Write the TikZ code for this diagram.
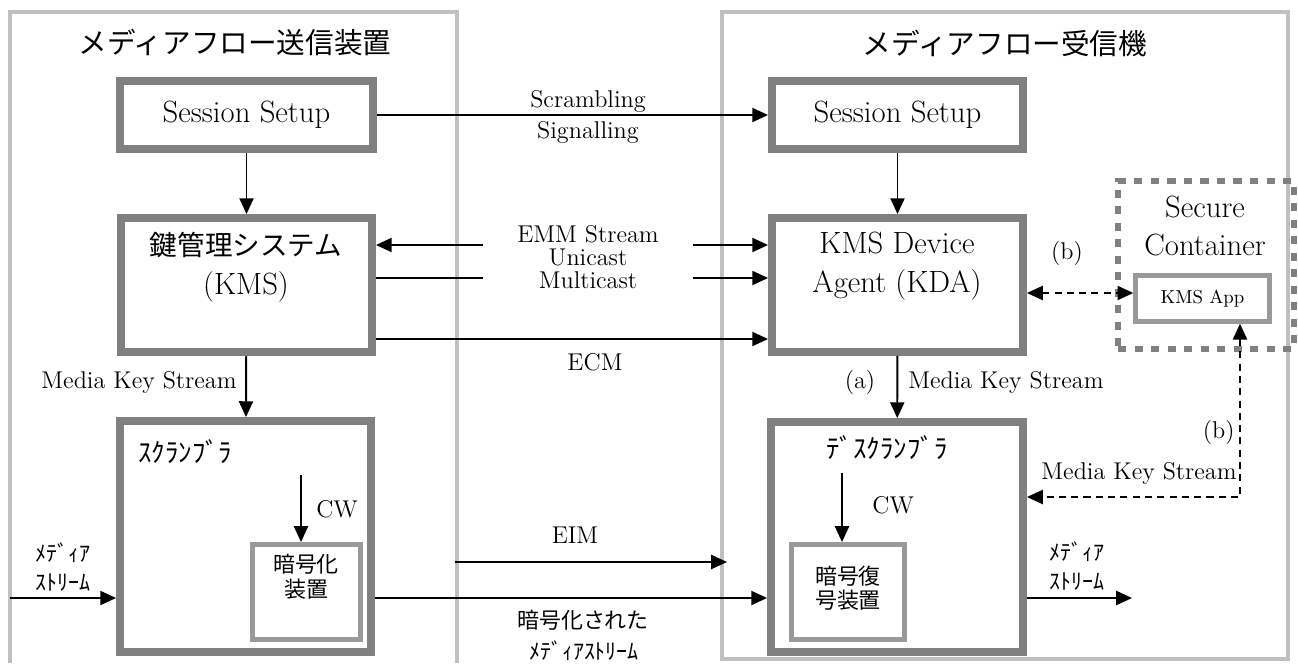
\documentclass[tikz,border=0pt]{standalone}
\usepackage{fontspec}
\usepackage{tikz}
\usetikzlibrary{positioning,arrows.meta}
\newfontfamily\jp{Noto Sans CJK JP}
\definecolor{boxgray}{RGB}{128,128,128}
\definecolor{ingray}{RGB}{153,153,153}
\definecolor{outgray}{RGB}{192,192,192}

\begin{document}
\begin{tikzpicture}[x=0.02cm, y=-0.02cm,
		outer/.style={draw=outgray, line width=2.3pt},
		box/.style={draw=boxgray, line width=4.5pt, fill=white, inner sep=0pt,
					font=\fontsize{17.5}{22}\selectfont},
		inbox/.style={draw=ingray, line width=2.8pt, fill=white, inner sep=0pt},
		secbox/.style={draw=boxgray, line width=3.4pt, dash pattern=on 4.6pt off 4.8pt},
		ln/.style={line width=1.1pt},
		arr/.style={ln, -{Triangle[length=9pt,width=8pt]}},
		darr/.style={ln, {Triangle[length=9pt,width=8pt]}-{Triangle[length=9pt,width=8pt]},
					dash pattern=on 4pt off 3pt},
		big/.style={font=\fontsize{17.5}{22}\selectfont, align=center, inner sep=0pt},
		lbl/.style={font=\fontsize{13.8}{18}\selectfont, align=center, inner sep=0pt},
		kana/.style={font=\jp\fontsize{12.5}{17}\selectfont, align=left, inner sep=0pt}
	]
		\useasboundingbox (0,0) rectangle (1298,663);

		% outer frames
		\draw[outer] (10,663) |- (457,12) -- (457,663);
		\draw[outer] (722,12) rectangle (1288,659);
		\node[font=\jp\fontsize{16.3}{20}\selectfont] (sendT) at (235,43) {メディアフロー送信装置};
		\node[font=\jp\fontsize{16.3}{20}\selectfont] (recvT) at (1005,43) {メディアフロー受信機};

		% sender
		\node[box, minimum width=5.06cm, minimum height=1.36cm] (ssL) at (246.5,115) {Session Setup};
		\node[box, minimum width=5.02cm, minimum height=2.68cm] (kms) at (246.5,285) {};
		\node[big] (kmsT) at (246,267) {{\jp\fontsize{15.7}{20}\selectfont 鍵管理システム}\\(KMS)};
		\node[box, minimum width=5.02cm, minimum height=4.62cm] (scr) at (245.5,536.5) {};
		\node[kana, font=\jp\fontsize{15.3}{20}\selectfont, anchor=west] (scrT) at (138,452) {ｽｸﾗﾝﾌﾞﾗ};
		\node[inbox, minimum width=2.16cm, minimum height=1.9cm] (enc) at (306.5,592) {};
		\node[kana, align=center, font=\jp\fontsize{12.5}{14}\selectfont] (encT) at (306,577) {暗号化\\装置};

		% receiver
		\node[box, minimum width=5.02cm, minimum height=1.36cm] (ssR) at (897.5,115) {Session Setup};
		\node[box, minimum width=5.02cm, minimum height=2.68cm] (kda) at (897.5,285) {};
		\node[big] (kdaT) at (897,266) {KMS Device\\Agent (KDA)};
		\node[box, minimum width=5.04cm, minimum height=4.6cm] (dscr) at (897,537) {};
		\node[kana, font=\jp\fontsize{15.3}{20}\selectfont] (dscrT) at (887,448) {ﾃﾞｽｸﾗﾝﾌﾞﾗ};
		\node[inbox, minimum width=2.26cm, minimum height=1.9cm] (dec) at (848,592) {};
		\node[kana, align=center, font=\jp\fontsize{12.5}{14}\selectfont] (decT) at (848,588) {暗号復\\号装置};

		% secure container
		\node[secbox, minimum width=3.52cm, minimum height=3.36cm] (sec) at (1206,265) {};
		\node[big] (secT) at (1205,226) {Secure\\Container};
		\node[inbox, line width=2.5pt, minimum width=2.68cm, minimum height=0.92cm,
			font=\fontsize{10.7}{12}\selectfont] (app) at (1202.5,298.5) {KMS App};

		% connector points
		\coordinate (emmA) at (483,245);
		\coordinate (emmB) at (483,278);
		\coordinate (emmC) at (693,245);
		\coordinate (emmD) at (693,278);
		\coordinate (ecm) at (560,339);
		\coordinate (eimA) at (455,562);
		\coordinate (eimB) at (727,562);
		\coordinate (encY) at (560,598);
		\coordinate (inL) at (10,598);
		\coordinate (outR) at (1132,598);
		\coordinate (cwL) at (301,475);
		\coordinate (cwR) at (842,473);
		\coordinate (kb) at (1140,293);
		\coordinate (mks) at (1240,497);

		% connectors
		\draw[arr] (ssL) -- (ssR);
		\node[lbl] (scrb) at (588,101) {Scrambling};
		\node[lbl] (sigl) at (588,132) {Signalling};
		\draw[arr] (ssL) -- (kms);
		\draw[arr] (ssR) -- (kda);

		\draw[arr] (emmA) -- (emmA -| kms.east);
		\draw[ln] (kms.east |- emmB) -- (emmB);
		\draw[arr] (emmC) -- (emmC -| kda.west);
		\draw[arr] (emmD) -- (emmD -| kda.west);
		\node[lbl] (emmT) at (588,257) {EMM Stream\\[-5pt]Unicast\\[-5pt]Multicast};
		\draw[arr] (kms.east |- ecm) -- (kda.west |- ecm);
		\node[lbl] (ecmT) at (595,362) {ECM};

		\draw[arr] (kms) -- (scr);
		\node[lbl, anchor=east] (mksL) at (237,382) {Media Key Stream};
		\draw[arr] (kda) -- (dscr);
		\node[lbl] (aT) at (860,382) {(a)};
		\node[lbl, anchor=west] (mksR) at (908,382) {Media Key Stream};

		\draw[arr] (inL) -- (inL -| scr.west);
		\node[kana, anchor=west] (inT) at (35,567) {ﾒﾃﾞｨｱ\\ｽﾄﾘｰﾑ};
		\draw[arr] (cwL) -- (cwL |- enc.north);
		\node[lbl, anchor=west] (cwLT) at (316,509) {CW};
		\draw[arr] (cwR) -- (cwR |- dec.north);
		\node[lbl, anchor=west] (cwRT) at (872,505) {CW};

		\draw[arr] (eimA) -- (eimB);
		\node[lbl] (eimT) at (575,535) {EIM};
		\draw[arr] (scr.east |- encY) -- (dscr.west |- encY);
		\node[kana] (encS) at (583,620) {暗号化された};
		\node[kana] (encS2) at (584,651) {ﾒﾃﾞｨｱｽﾄﾘｰﾑ};

		\draw[arr] (dscr.east |- outR) -- (outR);
		\node[kana, anchor=west] (outT) at (1049,566) {ﾒﾃﾞｨｱ\\ｽﾄﾘｰﾑ};

		\draw[darr] (kda.east |- kb) -- (kb -| app.west);
		\node[lbl] (bT) at (1067,253) {(b)};
		\draw[darr] (app.south -| mks) -- (mks) -- (mks -| dscr.east);
		\node[lbl, anchor=east] (b2T) at (1235,432) {(b)};
		\node[lbl, anchor=east] (mks2) at (1237,473) {Media Key Stream};
	\end{tikzpicture}
\end{document}
